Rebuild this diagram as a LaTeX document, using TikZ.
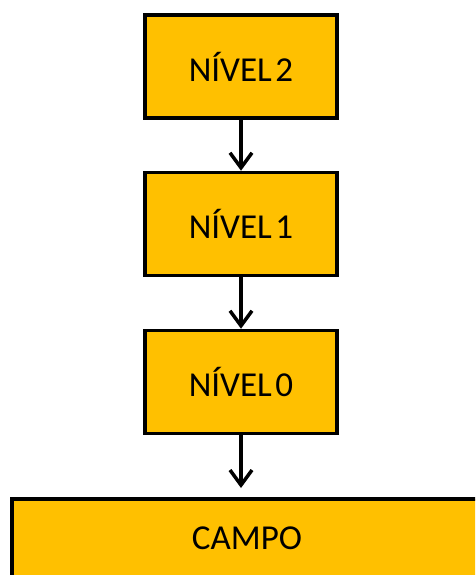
\documentclass[tikz,border=0pt]{standalone}
\usepackage{fontspec}
\setmainfont[WordSpace=0.45]{Carlito}
\usetikzlibrary{arrows.meta}
\definecolor{gold}{HTML}{FFC000}
\begin{document}
\begin{tikzpicture}[x=1pt, y=-1pt,
  level/.style={draw=black, line width=3.5pt, fill=gold, rectangle,
    minimum width=192pt, minimum height=103pt, inner sep=0pt,
    font=\fontsize{35}{40}\selectfont},
  link/.style={line width=3.5pt, -{Straight Barb[length=15pt, width=22pt, line width=3.5pt]}}]
\useasboundingbox (0,0) rectangle (475,575);
\clip (0,0) rectangle (475,575);
\node[level] (n2) at (241,66.5) {NÍVEL 2};
\node[level] (n1) at (241,224) {NÍVEL 1};
\node[level] (n0) at (241,382) {NÍVEL 0};
\node[level, minimum width=470pt, minimum height=78pt] (campo) at (247,538) {CAMPO};
\coordinate (tip) at (241,488);
\draw[link] (n2.south) -- (n1.north);
\draw[link] (n1.south) -- (n0.north);
\draw[link] (n0.south) -- (tip);
\end{tikzpicture}
\end{document}
